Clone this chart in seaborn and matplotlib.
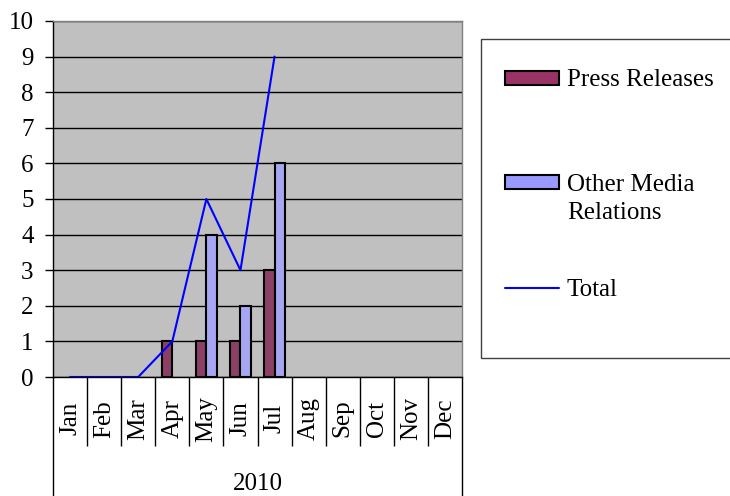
import numpy as np
import pandas as pd
import matplotlib
matplotlib.use("Agg")
import matplotlib.pyplot as plt
import seaborn as sns
from matplotlib.patches import Patch, Rectangle
from matplotlib.lines import Line2D

# chart data
months = ['Jan', 'Feb', 'Mar', 'Apr', 'May', 'Jun', 'Jul', 'Aug', 'Sep', 'Oct', 'Nov', 'Dec']
press_releases = [None, None, None, 1, 1, 1, 3, None, None, None, None, None]
other_media = [None, None, None, None, 4, 2, 6, None, None, None, None, None]
total = [0, 0, 0, 1, 5, 3, 9]
year_label = '2010'
series_names = ['Press Releases', 'Other Media Relations']

sns.set_theme(style="white")
plt.rcParams['font.family'] = ['Liberation Serif', 'DejaVu Serif']
plt.rcParams['text.color'] = 'black'
plt.rcParams['xtick.color'] = 'black'
plt.rcParams['ytick.color'] = 'black'
FS = 18

colors = {'Press Releases': '#993366', 'Other Media Relations': '#9999FF'}

rows = []
for i, m in enumerate(months):
    rows.append({'month': m, 'series': series_names[0], 'value': press_releases[i]})
    rows.append({'month': m, 'series': series_names[1], 'value': other_media[i]})
df = pd.DataFrame(rows).dropna()
df['value'] = df['value'].astype(float)

W, H = 730, 496
fig = plt.figure(figsize=(W / 100, H / 100), dpi=100)
ax = fig.add_axes([53 / W, (H - 377) / H, 409 / W, 356 / H])
ax.set_facecolor('#C0C0C0')

sns.barplot(data=df, x='month', y='value', hue='series', order=months,
            hue_order=series_names, palette=colors, width=0.6,
            edgecolor='black', linewidth=1.5, ax=ax, legend=False)
sns.lineplot(x=np.arange(len(total)), y=total, color='#0000FF', linewidth=1.5, ax=ax)

ax.set_xlim(-0.5, len(months) - 0.5)
ax.set_ylim(0, 10)
ax.set_yticks(range(0, 11))
ax.yaxis.grid(True, color='black', linewidth=1)
ax.set_axisbelow(True)
ax.set_xlabel('')
ax.set_ylabel('')
ax.tick_params(axis='y', left=True, length=6, width=1, color='black', labelsize=FS, pad=8)
ax.tick_params(axis='x', bottom=False, length=0, labelsize=FS, pad=30)
ax.set_xticks(range(len(months)))
ax.set_xticklabels(months, rotation=90, va='center')

for side in ['left', 'bottom']:
    ax.spines[side].set_color('black')
    ax.spines[side].set_linewidth(1)
for side in ['top', 'right']:
    ax.spines[side].set_color('#808080')
    ax.spines[side].set_linewidth(1)

# category separators and group box below the axis
xt = ax.get_xaxis_transform()
bounds = np.arange(-0.5, len(months), 1)
ax.vlines(bounds[1:-1], -0.194, 0, transform=xt, colors='black', linewidth=1, clip_on=False)
ax.vlines([bounds[0], bounds[-1]], -0.34, 0, transform=xt, colors='black', linewidth=1, clip_on=False)
ax.text((len(months) - 1) / 2, -0.30, year_label, transform=xt, ha='center', va='center', fontsize=FS)

# legend
frame = Rectangle((481 / W, (H - 358) / H), 300 / W, 319 / H, transform=fig.transFigure,
                  facecolor='white', edgecolor='#404040', linewidth=1, clip_on=False)
fig.patches.append(frame)
handles = [Patch(facecolor=colors[series_names[0]], edgecolor='black', linewidth=1.5),
           Patch(facecolor=colors[series_names[1]], edgecolor='black', linewidth=1.5),
           Line2D([], [], color='#0000FF', linewidth=1.5)]
labels = ['Press Releases', 'Other Media', 'Total']
fig.legend(handles, labels, loc='upper left', bbox_to_anchor=(493 / W, (H - 57) / H),
           frameon=False, fontsize=FS, handlelength=2.15, handleheight=0.5,
           handletextpad=0.3, labelspacing=3.3, borderpad=0)
fig.text(567 / W, (H - 213) / H, 'Relations', ha='left', va='center', fontsize=FS)

fig.savefig('out.png', dpi=100)
